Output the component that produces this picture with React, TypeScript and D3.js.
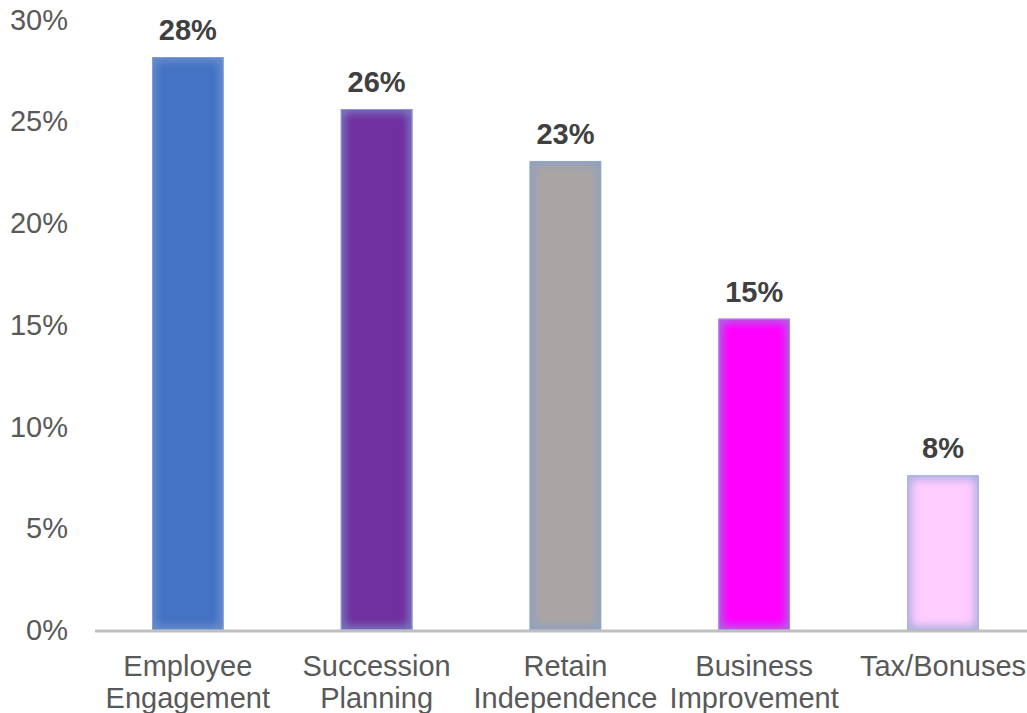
import React from "react";
import * as d3 from "d3";

const categories = [["Employee", "Engagement"], ["Succession", "Planning"], ["Retain", "Independence"], ["Business", "Improvement"], ["Tax/Bonuses"]];
const values = [28.15, 25.6, 23.05, 15.3, 7.6];
const valueLabels = ["28%", "26%", "23%", "15%", "8%"];
const colors = ["#4472C4", "#7030A0", "#AAA5A5", "#FF00FF", "#FFCCFF"];
const yTicks = [0, 5, 10, 15, 20, 25, 30];

export default function App() {
  const W = 1027, H = 713;
  const baseY = 630;
  const y = d3.scaleLinear().domain([0, 30]).range([baseY, 19.5]);
  const pi = 0.621;
  const x = d3.scaleBand<number>().domain(d3.range(values.length)).range([93.4, 1037.4]).paddingInner(pi).paddingOuter(pi / 2);
  const font = "'Liberation Sans', Arial, sans-serif";
  return (
    <svg width={W} height={H} style={{ position: "absolute", left: 0, top: 0, background: "#fff" }}>
      <defs>
        <filter id="glow" x="-10%" y="-10%" width="120%" height="120%">
          <feGaussianBlur stdDeviation="4" />
        </filter>
        {values.map((_, i) => (
          <clipPath id={`clip${i}`} key={i}>
            <rect x={x(i)} y={y(values[i])} width={x.bandwidth()} height={baseY - y(values[i])} />
          </clipPath>
        ))}
      </defs>
      <rect x={0} y={0} width={W} height={H} fill="#fff" />
      {yTicks.map((t) => (
        <text key={t} x={68} y={y(t)} dy="0.35em" textAnchor="end" fontFamily={font} fontSize={29} fill="#595959">
          {t}%
        </text>
      ))}
      {values.map((v, i) => (
        <g key={i}>
          <rect x={x(i)} y={y(v)} width={x.bandwidth()} height={baseY - y(v)} fill={colors[i]} />
          <g clipPath={`url(#clip${i})`}>
            <rect x={x(i)} y={y(v)} width={x.bandwidth()} height={baseY - y(v)} fill="none" stroke="#7F9FD0" strokeWidth={7} filter="url(#glow)" opacity={0.8} />
            <rect x={x(i)} y={y(v)} width={x.bandwidth()} height={baseY - y(v)} fill="none" stroke="#8FAAD8" strokeWidth={2} opacity={0.7} />
          </g>
          <text x={x(i)! + x.bandwidth() / 2} y={y(v) - 17} textAnchor="middle" fontFamily={font} fontWeight="bold" fontSize={29} fill="#404040">
            {valueLabels[i]}
          </text>
          {categories[i].map((line, j) => (
            <text key={j} x={x(i)! + x.bandwidth() / 2} y={666 + j * 32} dy="0.35em" textAnchor="middle" fontFamily={font} fontSize={29} fill="#595959">
              {line}
            </text>
          ))}
        </g>
      ))}
      <line x1={95} x2={1027} y1={baseY + 1} y2={baseY + 1} stroke="#BFBFBF" strokeWidth={3} />
    </svg>
  );
}
